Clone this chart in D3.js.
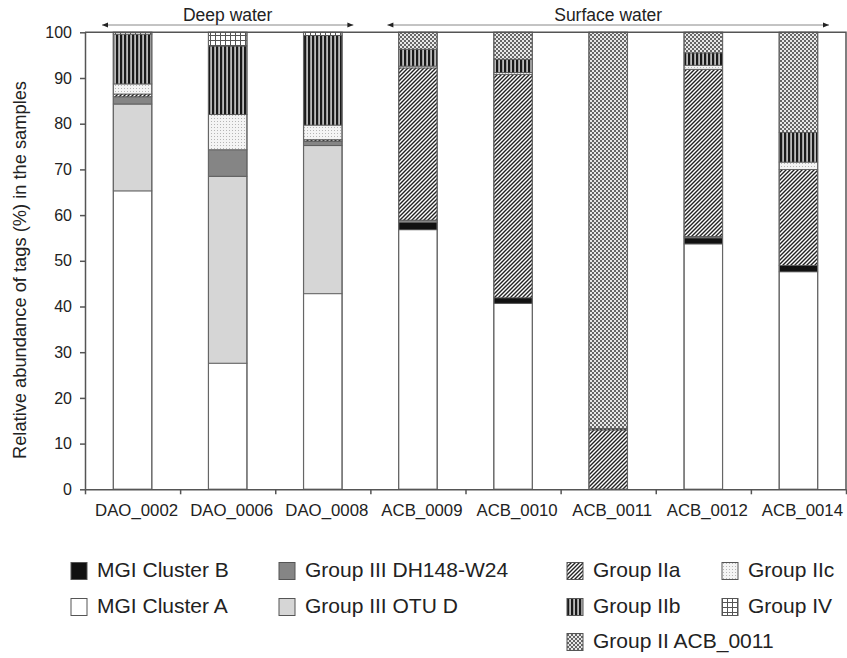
<!DOCTYPE html>
<html>
<head>
<meta charset="utf-8">
<script src="https://cdn.jsdelivr.net/npm/d3@7"></script>
<style>
  body { margin: 0; background: #fff; }
  svg text { font-family: Arial, "Liberation Sans", sans-serif; fill: #222; }
</style>
</head>
<body>
<svg id="chart" width="847" height="658"></svg>
<script>
// samples on the x axis
const samples = ["DAO_0002", "DAO_0006", "DAO_0008", "ACB_0009", "ACB_0010", "ACB_0011", "ACB_0012", "ACB_0014"];

// relative abundance (%) per group, one value per sample
const mgiA   = [65.3, 27.6, 42.8, 56.8, 40.7, 0,    53.7, 47.6];
const mgiB   = [0,    0,    0,    1.6,  1.2,  0,    1.3,  1.4];
const otuD   = [19.0, 40.9, 32.4, 0,    0,    0,    0,    0];
const dh148  = [1.6,  5.8,  1.0,  0.5,  0,    0,    0.3,  0];
const g2a    = [0.6,  0,    0.3,  33.3, 48.9, 13.0, 36.6, 21.0];
const g2c    = [2.2,  7.7,  3.2,  0.4,  0.4,  0,    0.9,  1.6];
const g2b    = [10.9, 15.0, 19.6, 3.7,  2.9,  0.3,  2.7,  6.5];
const g4     = [0.4,  3.0,  0.7,  0,    0,    0,    0,    0];
const g2acb  = [0,    0,    0,    3.7,  5.9,  86.7, 4.5,  21.9];

const yTicks = [0, 10, 20, 30, 40, 50, 60, 70, 80, 90, 100];

// legend labels, laid out in rows of four
const legendRows = [
  [["mgiB", "MGI Cluster B"], ["dh148", "Group III DH148-W24"], ["g2a", "Group IIa"], ["g2c", "Group IIc"]],
  [["mgiA", "MGI Cluster A"], ["otuD", "Group III OTU D"], ["g2b", "Group IIb"], ["g4", "Group IV"]],
  [null, null, ["g2acb", "Group II ACB_0011"], null]
];

// sample groups drawn above the plot
const headers = [
  { label: "Deep water", from: 0, to: 3 },
  { label: "Surface water", from: 3, to: 8 }
];

const keys = ["mgiA", "mgiB", "otuD", "dh148", "g2a", "g2c", "g2b", "g4", "g2acb"];
const series = { mgiA, mgiB, otuD, dh148, g2a, g2c, g2b, g4, g2acb };
const rows = samples.map((s, i) => {
  const r = { sample: s };
  keys.forEach(k => r[k] = series[k][i]);
  return r;
});

const margin = { left: 85, right: 1, top: 32.3, bottom: 489.3 };
const svg = d3.select("#chart");

// --- patterns ---
const defs = svg.append("defs");

function pattern(id, w, h) {
  return defs.append("pattern")
    .attr("id", id)
    .attr("patternUnits", "userSpaceOnUse")
    .attr("width", w)
    .attr("height", h);
}

// IIa: diagonal hatch
var pa = pattern("p-g2a", 4, 4);
pa.append("rect").attr("width", 4).attr("height", 4).attr("fill", "#fff");
pa.append("path").attr("d", "M-1,1 L1,-1 M0,4 L4,0 M3,5 L5,3")
  .attr("stroke", "#222").attr("stroke-width", 1.4);

// IIb: vertical lines
var pb = pattern("p-g2b", 4, 4);
pb.append("rect").attr("width", 4).attr("height", 4).attr("fill", "#bbb");
pb.append("rect").attr("width", 2.2).attr("height", 4).attr("fill", "#1a1a1a");

// IIc: fine dots
var pc = pattern("p-g2c", 3, 3);
pc.append("rect").attr("width", 3).attr("height", 3).attr("fill", "#f4f4f4");
pc.append("rect").attr("x", 1).attr("y", 1).attr("width", 1).attr("height", 1).attr("fill", "#b5b5b5");

// IV: grid
var p4 = pattern("p-g4", 5, 5);
p4.append("rect").attr("width", 5).attr("height", 5).attr("fill", "#fff");
p4.append("path").attr("d", "M0,0.5 H5 M0.5,0 V5").attr("stroke", "#555").attr("stroke-width", 1);

// II ACB_0011: checkered dots
var pk = pattern("p-g2acb", 4, 4);
pk.append("rect").attr("width", 4).attr("height", 4).attr("fill", "#e8e8e8");
pk.append("rect").attr("width", 2).attr("height", 2).attr("fill", "#666");
pk.append("rect").attr("x", 2).attr("y", 2).attr("width", 2).attr("height", 2).attr("fill", "#666");

const fills = {
  mgiA: "#fff",
  mgiB: "#111",
  otuD: "#d6d6d6",
  dh148: "#858585",
  g2a: "url(#p-g2a)",
  g2c: "url(#p-g2c)",
  g2b: "url(#p-g2b)",
  g4: "url(#p-g4)",
  g2acb: "url(#p-g2acb)"
};

// --- scales ---
const x = d3.scaleBand()
  .domain(samples)
  .range([margin.left, 847 - margin.right])
  .paddingInner(0.595)
  .paddingOuter(0.2975);

const xEdge = d3.scaleLinear()
  .domain([0, samples.length])
  .range([margin.left, 847 - margin.right]);

const y = d3.scaleLinear()
  .domain([0, 100])
  .range([margin.bottom, margin.top]);

// --- bars ---
const stacked = d3.stack().keys(keys)(rows);

svg.append("g")
  .selectAll("g")
  .data(stacked)
  .join("g")
  .attr("fill", d => fills[d.key])
  .selectAll("rect")
  .data(d => d.filter(p => p[1] - p[0] > 0))
  .join("rect")
  .attr("x", d => x(d.data.sample))
  .attr("width", x.bandwidth())
  .attr("y", d => y(d[1]))
  .attr("height", d => y(d[0]) - y(d[1]))
  .attr("stroke", "#555")
  .attr("stroke-width", 0.8);

// bar outlines
svg.append("g")
  .selectAll("rect")
  .data(rows)
  .join("rect")
  .attr("x", d => x(d.sample))
  .attr("width", x.bandwidth())
  .attr("y", y(100))
  .attr("height", y(0) - y(100))
  .attr("fill", "none")
  .attr("stroke", "#666")
  .attr("stroke-width", 1.2);

// --- frame (top and right) ---
svg.append("path")
  .attr("d", "M" + margin.left + "," + y(100) + " H" + xEdge(samples.length) + " V" + y(0))
  .attr("fill", "none")
  .attr("stroke", "#555")
  .attr("stroke-width", 1.5);

// --- axes ---
const yAxis = svg.append("g")
  .attr("transform", "translate(" + margin.left + ",0)")
  .call(d3.axisLeft(y).tickValues(yTicks).tickSize(5).tickSizeOuter(0).tickPadding(8));
yAxis.selectAll("text").style("font-size", "16px").attr("fill", "#222");

const xAxis = svg.append("g")
  .attr("transform", "translate(0," + y(0) + ")")
  .call(d3.axisBottom(xEdge).tickValues(d3.range(samples.length + 1)).tickFormat("").tickSize(5).tickSizeOuter(0));

svg.selectAll(".domain, .tick line").attr("stroke", "#555").attr("stroke-width", 1.5);

svg.append("g")
  .selectAll("text")
  .data(samples)
  .join("text")
  .attr("x", d => x(d) + x.bandwidth() / 2 + 4)
  .attr("y", 516)
  .attr("text-anchor", "middle")
  .style("font-size", "16.8px")
  .text(d => d);

svg.append("text")
  .attr("transform", "rotate(-90)")
  .attr("x", -270)
  .attr("y", 21)
  .attr("text-anchor", "middle")
  .attr("dominant-baseline", "middle")
  .style("font-size", "18.3px")
  .text("Relative abundance of tags (%) in the samples");

// --- water headers with double arrows ---
headers.forEach(h => {
  const x0 = xEdge(h.from) + 17, x1 = xEdge(h.to) - 17;
  const g = svg.append("g");
  g.append("line")
    .attr("x1", x0).attr("x2", x1)
    .attr("y1", 25).attr("y2", 25)
    .attr("stroke", "#888").attr("stroke-width", 1);
  g.append("path")
    .attr("d", "M" + x0 + ",25 l6,-2.5 v5 Z M" + x1 + ",25 l-6,-2.5 v5 Z")
    .attr("fill", "#222");
  g.append("text")
    .attr("x", (xEdge(h.from) + xEdge(h.to)) / 2)
    .attr("y", 21)
    .attr("text-anchor", "middle")
    .style("font-size", "17.5px")
    .text(h.label);
});

// --- legend ---
const legendX = [71, 279, 567, 722];
const legendY = [571, 607, 642];

legendRows.forEach((row, ri) => {
  row.forEach((item, ci) => {
    if (!item) return;
    const g = svg.append("g")
      .attr("transform", "translate(" + legendX[ci] + "," + legendY[ri] + ")");
    g.append("rect")
      .attr("x", 0).attr("y", -8.5)
      .attr("width", 16).attr("height", 17)
      .attr("fill", fills[item[0]])
      .attr("stroke", "#555")
      .attr("stroke-width", 1);
    g.append("text")
      .attr("x", 26)
      .attr("y", 0)
      .attr("dominant-baseline", "middle")
      .style("font-size", "21px")
      .text(item[1]);
  });
});
</script>
</body>
</html>
